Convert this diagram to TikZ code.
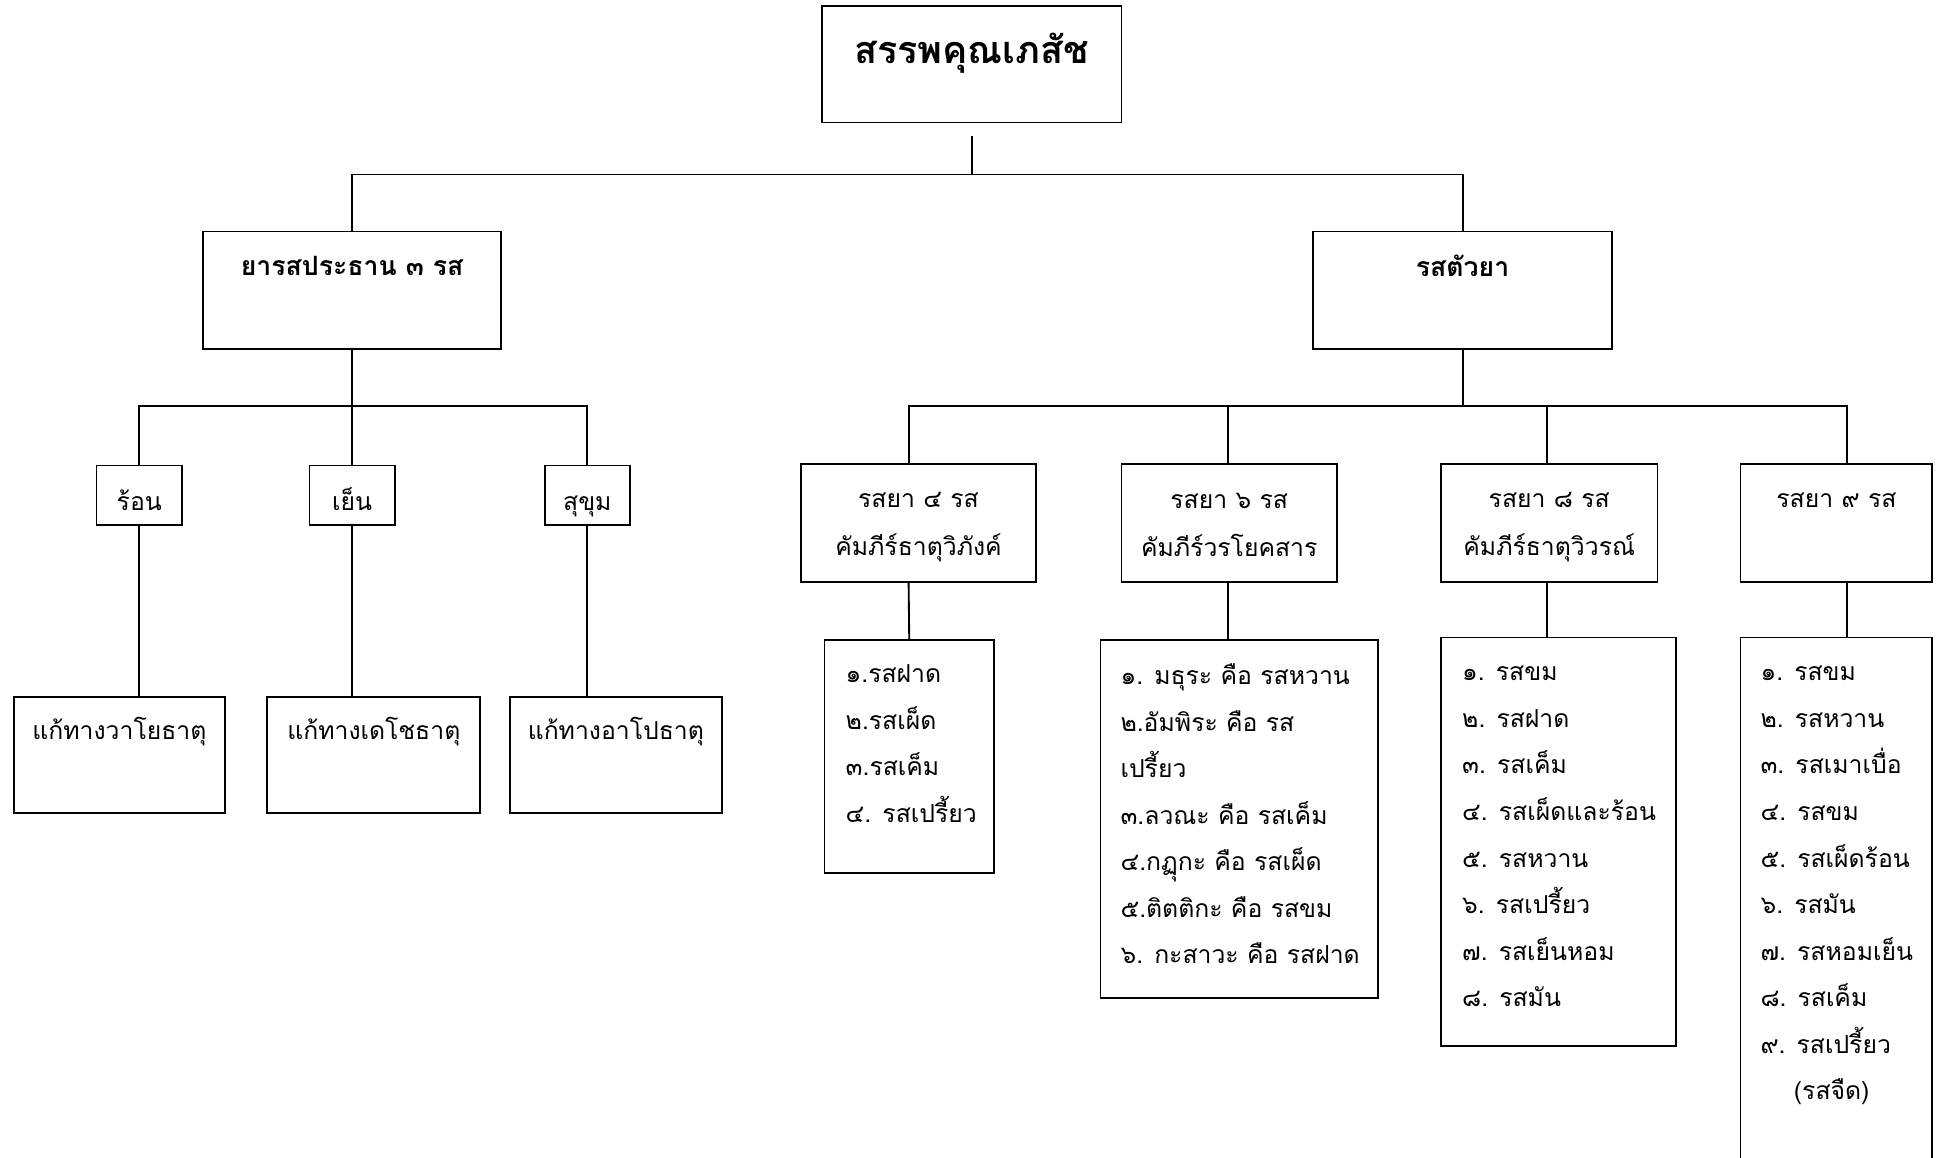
\documentclass[tikz,border=0pt]{standalone}
\usepackage{fontspec}
\newfontfamily\thaifont[Script=Thai]{Loma}
\usetikzlibrary{calc}
\tikzset{
  box/.style={draw, line width=1.5pt, inner sep=0pt, fill=none},
  txt/.style={font=\thaifont\fontsize{20}{24}\selectfont, inner sep=0pt, anchor=center},
  btxt/.style={font=\thaifont\bfseries\fontsize{21.5}{24}\selectfont, inner sep=0pt, anchor=center},
  listtxt/.style={font=\thaifont\fontsize{20}{37.6}\selectfont, inner sep=0pt, anchor=north west, align=left},
  conn/.style={line width=1.5pt},
}
\begin{document}
\begin{tikzpicture}[x=1pt,y=-1pt]
\useasboundingbox (0,0) rectangle (1568,935);
% root
\node[box, minimum width=242pt, minimum height=94pt] (root) at (785,52) {};
\node[font=\thaifont\bfseries\fontsize{30.5}{36}\selectfont, inner sep=0pt] (roott) at (785,43) {สรรพคุณเภสัช};
% level 2
\node[box, minimum width=241pt, minimum height=95pt] (LB) at (284.5,234.5) {};
\node[btxt] (LBt) at (284.5,215) {ยารสประธาน ๓ รส};
\node[box, minimum width=241pt, minimum height=95pt] (RB) at (1181.5,234.5) {};
\node[btxt] (RBt) at (1181.5,215) {รสตัวยา};
\coordinate (bus) at (785,141);
\draw[conn] ([yshift=-10pt]root.south) -- (bus);
\draw[conn] (LB.north) |- (bus) -| (RB.north);
% left branch
\node[box, minimum width=69pt, minimum height=48pt] (hot) at (112.5,400) {};
\node[txt, anchor=base] (hott) at (112.5,412) {ร้อน};
\node[box, minimum width=69pt, minimum height=48pt] (cold) at (284.5,400) {};
\node[txt, anchor=base] (coldt) at (284.5,412) {เย็น};
\node[box, minimum width=69pt, minimum height=48pt] (mild) at (474.5,400) {};
\node[txt, anchor=base] (mildt) at (474.5,412) {สุขุม};
\coordinate (lbus) at (284.5,328);
\draw[conn] (LB.south) -- (cold.north);
\draw[conn] (hot.north) |- (lbus) -| (mild.north);
\node[box, minimum width=171pt, minimum height=94pt] (vata) at (96.5,610) {};
\node[txt] (vatat) at (96.5,591) {แก้ทางวาโยธาตุ};
\node[box, minimum width=172pt, minimum height=94pt] (tejo) at (302,610) {};
\node[txt] (tejot) at (302,591) {แก้ทางเดโชธาตุ};
\node[box, minimum width=171pt, minimum height=94pt] (apo) at (497.5,610) {};
\node[txt] (apot) at (497.5,591) {แก้ทางอาโปธาตุ};
\draw[conn] (hot.south) -- (hot.south |- vata.north);
\draw[conn] (cold.south) -- (cold.south |- tejo.north);
\draw[conn] (mild.south) -- (mild.south |- apo.north);
% right branch
\node[box, minimum width=190pt, minimum height=95pt] (r4) at (742,422.5) {};
\node[txt, align=center] (r4t) at (742,426) {รสยา ๔ รส\\[15pt]คัมภีร์ธาตุวิภังค์};
\node[box, minimum width=174pt, minimum height=95pt] (r6) at (993,422.5) {};
\node[txt, align=center] (r6t) at (993,424) {รสยา ๖ รส\\[15pt]คัมภีร์วรโยคสาร};
\node[box, minimum width=175pt, minimum height=95pt] (r8) at (1251.5,422.5) {};
\node[txt, align=center] (r8t) at (1251.5,426) {รสยา ๘ รส\\[15pt]คัมภีร์ธาตุวิวรณ์};
\node[box, minimum width=155pt, minimum height=95pt] (r9) at (1483.5,422.5) {};
\node[txt] (r9t) at (1483.5,404) {รสยา ๙ รส};
\coordinate (rbus) at (1181.5,328);
\draw[conn] (RB.south) -- (rbus);
\draw[conn] ([xshift=-8pt]r4.north) |- (rbus) -| ([xshift=8.5pt]r9.north);
\draw[conn] ([xshift=-1pt]r6.north |- rbus) -- ([xshift=-1pt]r6.north);
\draw[conn] ([xshift=-1.5pt]r8.north |- rbus) -- ([xshift=-1.5pt]r8.north);
% lists
\node[box, minimum width=137pt, minimum height=188pt] (l4) at (734.5,611) {};
\node[listtxt] (l4t) at (683,537) {๑.รสฝาด\\๒.รสเผ็ด\\๓.รสเค็ม\\๔. รสเปรี้ยว};
\node[box, minimum width=224pt, minimum height=289pt] (l6) at (1001,661.5) {};
\node[listtxt] (l6t) at (905,536) {๑. มธุระ คือ รสหวาน\\๒.อัมพิระ คือ รส\\เปรี้ยว\\๓.ลวณะ คือ รสเค็ม\\๔.กฏุกะ คือ รสเผ็ด\\๕.ติตติกะ คือ รสขม\\๖. กะสาวะ คือ รสฝาด};
\node[box, minimum width=190pt, minimum height=330pt] (l8) at (1259,680) {};
\node[listtxt] (l8t) at (1181,538) {๑. รสขม\\๒. รสฝาด\\๓. รสเค็ม\\๔. รสเผ็ดและร้อน\\๕. รสหวาน\\๖. รสเปรี้ยว\\๗. รสเย็นหอม\\๘. รสมัน};
\coordinate (l9tl) at (1406,515);
\coordinate (l9tr) at (1561,515);
\coordinate (l9bl) at (1406,940);
\coordinate (l9br) at (1561,940);
\draw[conn] (l9bl) -- (l9tl) -- (l9tr) -- (l9br);
\node[listtxt] (l9t) at (1422,538) {๑. รสขม\\๒. รสหวาน\\๓. รสเมาเบื่อ\\๔. รสขม\\๕. รสเผ็ดร้อน\\๖. รสมัน\\๗. รสหอมเย็น\\๘. รสเค็ม\\๙. รสเปรี้ยว\\\hspace*{27pt}(รสจืด)};
\draw[conn] ([xshift=-8pt]r4.south) -- (l4.north);
\draw[conn] ([xshift=-1pt]r6.south) -- ([xshift=-1pt]r6.south |- l6.north);
\draw[conn] ([xshift=-1.5pt]r8.south) -- ([xshift=-1.5pt]r8.south |- l8.north);
\draw[conn] ([xshift=8.5pt]r9.south) -- ([xshift=8.5pt]r9.south |- l9tl);
\end{tikzpicture}
\end{document}
